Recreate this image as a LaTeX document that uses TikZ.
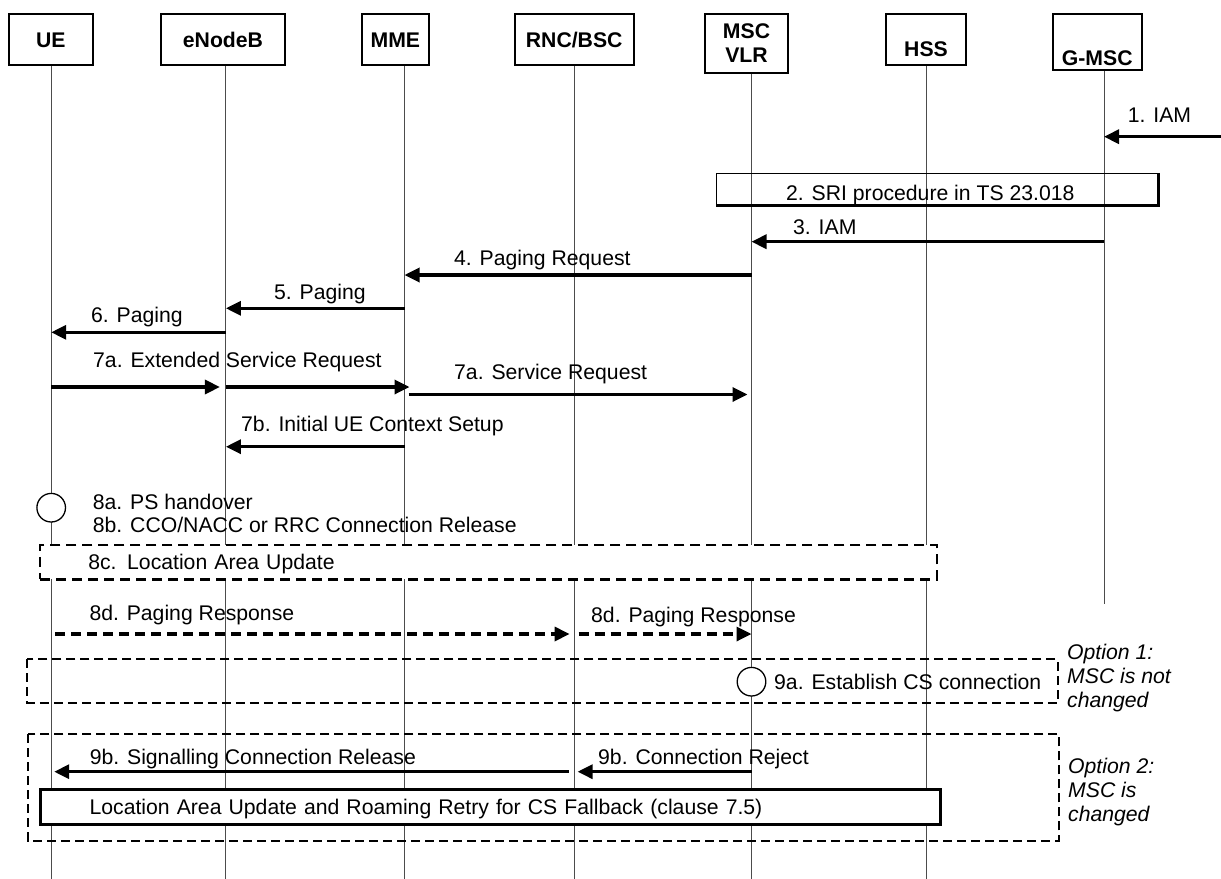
\documentclass[tikz,border=0pt]{standalone}
\usepackage{fontspec}
\setmainfont{Liberation Sans}
\usetikzlibrary{arrows.meta}

\begin{document}
\fontsize{21.2bp}{24bp}\selectfont
\begin{tikzpicture}[
  captext/.style={text height=15bp,text depth=0pt},
  hdr/.style={draw,line width=2bp,inner sep=0pt,font=\bfseries,captext},
  life/.style={line width=1bp,black!70},
  msg/.style={-{Triangle[length=15bp,width=14bp]},line width=3.3bp},
  dmsg/.style={msg,dash pattern=on 10bp off 6bp},
  lbl/.style={anchor=west,inner sep=0pt,captext},
  evt/.style={circle,draw,fill=white,line width=1.3bp,minimum size=28.6bp,inner sep=0pt},
  procbox/.style={draw,fill=white,inner xsep=0pt,inner ysep=0pt,align=left,captext},
  optbox/.style={line width=2bp,dash pattern=on 9bp off 5bp},
  opt/.style={anchor=north west,inner sep=0pt,align=left,font=\itshape}
]
\useasboundingbox (0,0) rectangle (1221bp,-879bp);

% entities
\node[hdr,minimum width=84.2bp,minimum height=51bp] (UE) at (50.8bp,-39.5bp) {UE};
\node[hdr,minimum width=123.4bp,minimum height=51bp] (eNB) at (223bp,-39.5bp) {eNodeB};
\node[hdr,minimum width=67.2bp,minimum height=51bp] (MME) at (395.4bp,-39.5bp) {MME};
\node[hdr,minimum width=118.9bp,minimum height=51bp] (RNC) at (574.2bp,-39.5bp) {RNC/BSC};
\node[hdr,minimum width=83bp,minimum height=58.7bp,align=center,text height={},text depth={}] (MSC) at (746.5bp,-43.35bp) {MSC\\VLR};
\node[hdr,minimum width=80bp,minimum height=51bp,text height=34bp] (HSS) at (926bp,-39.5bp) {HSS};
\node[hdr,minimum width=89.1bp,minimum height=56bp,text height=46bp] (GMSC) at (1097.25bp,-42bp) {G-MSC};

% lifelines
\coordinate (UEl) at (51.2bp,0);
\coordinate (eNBl) at (225.9bp,0);
\coordinate (MMEl) at (404.5bp,0);
\coordinate (RNCl) at (574.6bp,0);
\coordinate (MSCl) at (751.5bp,0);
\coordinate (HSSl) at (926.5bp,0);
\coordinate (GMSCl) at (1104bp,0);
\draw[life] (UEl |- UE.south) -- (UEl |- 0,-879bp);
\draw[life] (eNBl |- eNB.south) -- (eNBl |- 0,-879bp);
\draw[life] (MMEl |- MME.south) -- (MMEl |- 0,-879bp);
\draw[life] (RNCl |- RNC.south) -- (RNCl |- 0,-879bp);
\draw[life] (MSCl |- MSC.south) -- (MSCl |- 0,-879bp);
\draw[life] (HSSl |- HSS.south) -- (HSSl |- 0,-879bp);
\draw[life] (GMSCl |- GMSC.south) -- (GMSCl |- 0,-604bp);

% 1 - 3
\coordinate (IAMin) at (1221bp,-136.7bp);
\draw[msg] (IAMin) -- (GMSCl |- IAMin);
\node[lbl] (m1) at (1127.7bp,-115bp) {1. IAM};
\node[draw,line width=1bp,minimum width=440.7bp,minimum height=31.7bp,inner sep=0pt,text height=23bp,text depth=0pt] (SRI) at (937.3bp,-189.2bp) {\hspace*{-14bp}2. SRI procedure in TS 23.018};
\draw[line width=3bp] (SRI.north east) -- (SRI.south east) -- (SRI.south west);
\draw[msg] (GMSCl |- 0,-241.7bp) -- (MSCl |- 0,-241.7bp);
\node[lbl] (m3) at (793bp,-226.7bp) {3. IAM};

% 4 - 7
\draw[msg] (MSCl |- 0,-275bp) -- (MMEl |- 0,-275bp);
\node[lbl] (m4) at (454bp,-258.3bp) {4. Paging Request};
\draw[msg] (MMEl |- 0,-308.3bp) -- (eNBl |- 0,-308.3bp);
\node[lbl] (m5) at (274bp,-291.7bp) {5. Paging};
\draw[msg] (eNBl |- 0,-332.3bp) -- (UEl |- 0,-332.3bp);
\node[lbl] (m6) at (91bp,-315bp) {6. Paging};
\draw[msg,shorten >=6bp] (UEl |- 0,-387bp) -- (eNBl |- 0,-387bp);
\draw[msg,shorten >=-5bp] (eNBl |- 0,-387bp) -- (MMEl |- 0,-387bp);
\node[lbl] (m7a) at (93bp,-360bp) {7a. Extended Service Request};
\draw[msg,shorten <=4bp,shorten >=4bp] (MMEl |- 0,-394.5bp) -- (MSCl |- 0,-394.5bp);
\node[lbl] (m7as) at (454bp,-371.7bp) {7a. Service Request};
\draw[msg] (MMEl |- 0,-446.7bp) -- (eNBl |- 0,-446.7bp);
\node[lbl] (m7b) at (241bp,-424bp) {7b. Initial UE Context Setup};

% 8
\node[evt] (e8a) at (UEl |- 0,-507.7bp) {};
\node[lbl] (m8a) at (92.7bp,-501.7bp) {8a. PS handover};
\node[lbl] (m8b) at (92.7bp,-525bp) {8b. CCO/NACC or RRC Connection Release};
\node[procbox,line width=2.7bp,dash pattern=on 10bp off 6bp,text width=897bp,minimum height=34.3bp] (LAUa) at (488.5bp,-562.2bp) {\hspace*{48.3bp}8c. Location Area Update};
\draw[dmsg,shorten <=4bp,shorten >=5bp] (UEl |- 0,-634bp) -- (RNCl |- 0,-634bp);
\node[lbl] (m8d) at (89.3bp,-613.3bp) {8d. Paging Response};
\draw[dmsg,shorten <=4bp] (RNCl |- 0,-634bp) -- (MSCl |- 0,-634bp);
\node[lbl] (m8ds) at (591bp,-615bp) {8d. Paging Response};

% 9, option 1
\draw[optbox] (27bp,-659.3bp) rectangle (1058bp,-702.5bp);
\node[evt] (e9a) at (MSCl |- 0,-681.7bp) {};
\node[lbl] (m9a) at (774bp,-681.7bp) {9a. Establish CS connection};
\node[opt] (o1) at (1067bp,-644bp) {Option 1:\\MSC is not\\changed};

% 9, option 2
\draw[optbox] (28bp,-734bp) rectangle (1059bp,-840.7bp);
\draw[msg,shorten >=3bp] (MSCl |- 0,-771.7bp) -- (RNCl |- 0,-771.7bp);
\node[lbl] (m9bc) at (598bp,-756.7bp) {9b. Connection Reject};
\draw[msg,shorten <=6bp,shorten >=3bp] (RNCl |- 0,-771.7bp) -- (UEl |- 0,-771.7bp);
\node[lbl] (m9bs) at (89.6bp,-756.7bp) {9b. Signalling Connection Release};
\node[procbox,line width=3bp,text width=899.5bp,minimum height=35.3bp] (LAU) at (490.25bp,-806.65bp) {\hspace*{49.1bp}Location Area Update and Roaming Retry for CS Fallback (clause 7.5)};
\node[opt] (o2) at (1068bp,-758bp) {Option 2:\\MSC is\\changed};
\end{tikzpicture}
\end{document}
